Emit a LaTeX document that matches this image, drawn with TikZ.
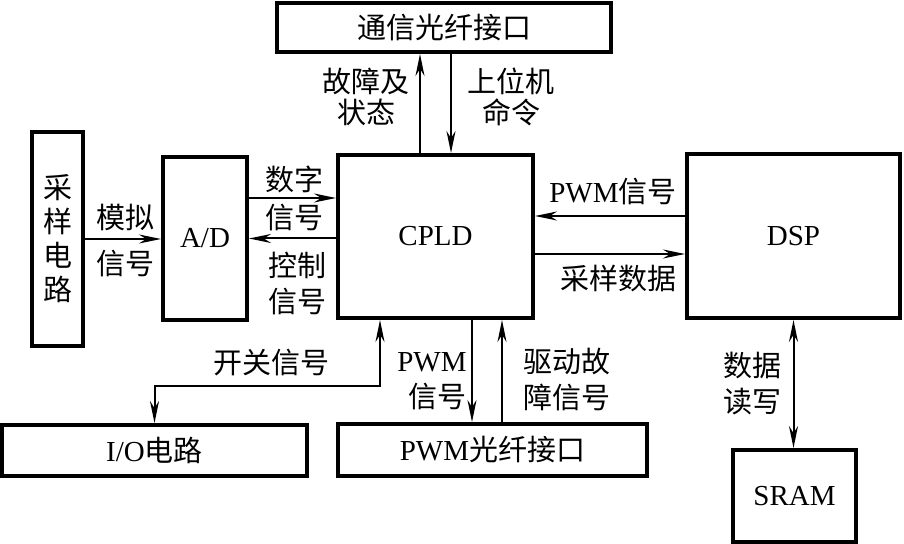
\documentclass[tikz,border=0pt]{standalone}
\usepackage{fontspec}
\setmainfont{Liberation Serif}
\newfontfamily\cjk{Noto Sans CJK SC}
\usetikzlibrary{arrows.meta,positioning,calc}
\newcommand{\zh}[1]{{\cjk #1}}
\tikzset{
  unit/.style={draw,line width=2pt,inner sep=0pt,align=center,
    font=\fontsize{14.5}{18}\selectfont},
  sig/.style={draw,line width=1pt,->},
  lbl/.style={inner sep=0pt,align=center,font=\fontsize{14.5}{18}\selectfont},
  >={Stealth[length=11pt,width=4.5pt]}
}

\begin{document}
\begin{tikzpicture}[x=0.5pt,y=-0.5pt]
\useasboundingbox (0,0) rectangle (904,544);
% blocks
\node[unit,minimum width=167pt,minimum height=24.5pt] (comm) at (444,27.5) {\zh{通信光纤接口}};
\node[unit,minimum width=25.5pt,minimum height=107pt,font=\fontsize{14.5}{17}\selectfont]
  (samp) at (57.5,239) {\zh{采}\\\zh{样}\\\zh{电}\\\zh{路}};
\node[unit,minimum width=42pt,minimum height=81.5pt] (ad) at (205,238.5) {A/D};
\node[unit,minimum width=97.5pt,minimum height=81.5pt] (cpld) at (435.5,236.5) {CPLD};
\node[unit,minimum width=106.5pt,minimum height=82pt] (dsp) at (793.5,236) {DSP};
\node[unit,minimum width=152.5pt,minimum height=25.5pt] (io) at (154.5,450.5) {I/O\zh{电路}};
\node[unit,minimum width=154.5pt,minimum height=26pt] (pwmif) at (492.5,450) {PWM\zh{光纤接口}};
\node[unit,minimum width=61.5pt,minimum height=46pt] (sram) at (794.5,496) {SRAM};

% signals
\draw[sig] ([xshift=-7.75pt]cpld.north) coordinate (up1) -- (up1 |- comm.south);
\draw[sig,<-] ([xshift=7.75pt]cpld.north) coordinate (dn1) -- (dn1 |- comm.south);
\draw[sig] (samp.east) -- (samp.east -| ad.west);
\draw[sig] ([yshift=20.25pt]ad.east) coordinate (dig) -- (dig -| cpld.west);
\draw[sig,<-] (ad.east) -- (ad.east -| cpld.west);
\draw[sig] ([yshift=10pt]dsp.west) coordinate (pwmR) -- (pwmR -| cpld.east);
\draw[sig,<-] ([yshift=-9pt]dsp.west) coordinate (smpR) -- (smpR -| cpld.east);
\draw[sig,<->] ([xshift=-27.75pt]cpld.south) -- ++(0,66) -| (io.north);
\draw[sig] ([xshift=18.25pt]cpld.south) coordinate (pwmD) -- (pwmD |- pwmif.north);
\draw[sig,<-] ([xshift=33.25pt]cpld.south) coordinate (drv) -- (drv |- pwmif.north);
\draw[sig,<->] (dsp.south) -- (dsp.south |- sram.north);

% labels
\node[lbl] (lFault) at (366,97) {\zh{故障及}\\[-2.5pt]\zh{状态}};
\node[lbl] (lHost) at (511,97) {\zh{上位机}\\[-2.5pt]\zh{命令}};
\node[lbl] (lAna) at (125,241) {\zh{模拟}\\[5pt]\zh{信号}};
\node[lbl] (lDig) at (294,198.5) {\zh{数字}\\[1pt]\zh{信号}};
\node[lbl] (lCtl) at (297,284) {\zh{控制}\\\zh{信号}};
\node[lbl,anchor=east] (lPwmR) at (677,192) {PWM\zh{信号}};
\node[lbl,anchor=east] (lSmp) at (677,278) {\zh{采样数据}};
\node[lbl] (lSw) at (271.5,363) {\zh{开关信号}};
\node[lbl,align=right,anchor=east] (lPwmD) at (467,381.5) {PWM\\\zh{信号}};
\node[lbl,align=left,anchor=west] (lDrv) at (523,380) {\zh{驱动故}\\\zh{障信号}};
\node[lbl] (lRw) at (752.5,384) {\zh{数据}\\\zh{读写}};
\end{tikzpicture}
\end{document}
